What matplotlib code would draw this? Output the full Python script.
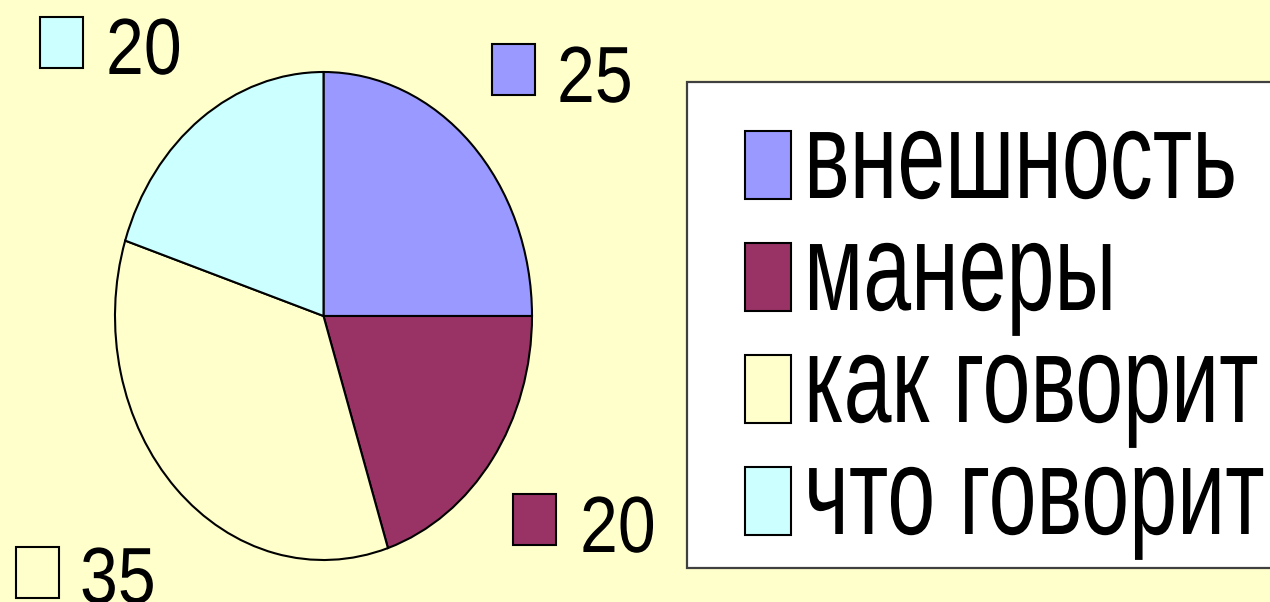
import matplotlib
matplotlib.use("Agg")
import matplotlib.pyplot as plt
from matplotlib.patches import Rectangle
from matplotlib.patheffects import AbstractPathEffect
from matplotlib.transforms import Affine2D

# data
categories = ["внешность", "манеры", "как говорит", "что говорит"]
values = [25, 20, 35, 20]
colors = ["#9999FF", "#993366", "#FFFFCC", "#CCFFFF"]

W, H = 1270, 602
BG = "#FFFFCC"
FONT = ["Liberation Sans", "DejaVu Sans"]


class Stretch(AbstractPathEffect):
    """Stretch glyphs vertically around the baseline (the source text is tall and narrow)."""

    def __init__(self, sy):
        super().__init__()
        self.sy = sy

    def draw_path(self, renderer, gc, tpath, affine, rgbFace=None):
        renderer.draw_path(gc, tpath, Affine2D().scale(1, self.sy) + affine, rgbFace)


def fx(x):
    return x / W


def fy(y):
    return 1 - y / H


def box(x, top, w, h, face, lw=1.5, edge="black"):
    fig.add_artist(Rectangle((fx(x), fy(top + h)), w / W, h / H, transform=fig.transFigure,
                             facecolor=face, edgecolor=edge, linewidth=lw, clip_on=False))


fig = plt.figure(figsize=(12.7, 6.02), dpi=100, facecolor=BG)

# pie (elliptical, as in the source)
ax = fig.add_axes([fx(115), fy(560), (532 - 115) / W, (560 - 72) / H])
wedges, _ = ax.pie(values, colors=colors, startangle=90, counterclock=False,
                   wedgeprops=dict(edgecolor="black", linewidth=1.5, clip_on=False))
ax.set_xlim(-1, 1)
ax.set_ylim(-1, 1)
ax.set_aspect("auto")
ax.axis("off")

# data labels: square key + value  (square x, square top, text x, baseline)
label_pos = [(492, 44, 557, 102), (513, 494, 580, 552), (16, 547, 80, 603), (40, 17, 106, 74)]
for (sx, st, tx, tb), v, c in zip(label_pos, values, colors):
    box(sx, st, 43, 51, c)
    fig.text(fx(tx), fy(tb), str(v), fontsize=49, family=FONT, ha="left", va="baseline",
             path_effects=[Stretch(1.17)])

# legend
box(687, 82, 590, 486, "white", lw=1.6, edge="#404040")
row_tops = [131, 243, 355, 467]
for top, name, c in zip(row_tops, categories, colors):
    box(745, top, 46, 68, c)
    fig.text(fx(804), fy(top + 67), name, fontsize=62, family=FONT, ha="left", va="baseline",
             path_effects=[Stretch(1.45)])

fig.savefig("out.png", dpi=100, facecolor=BG)
